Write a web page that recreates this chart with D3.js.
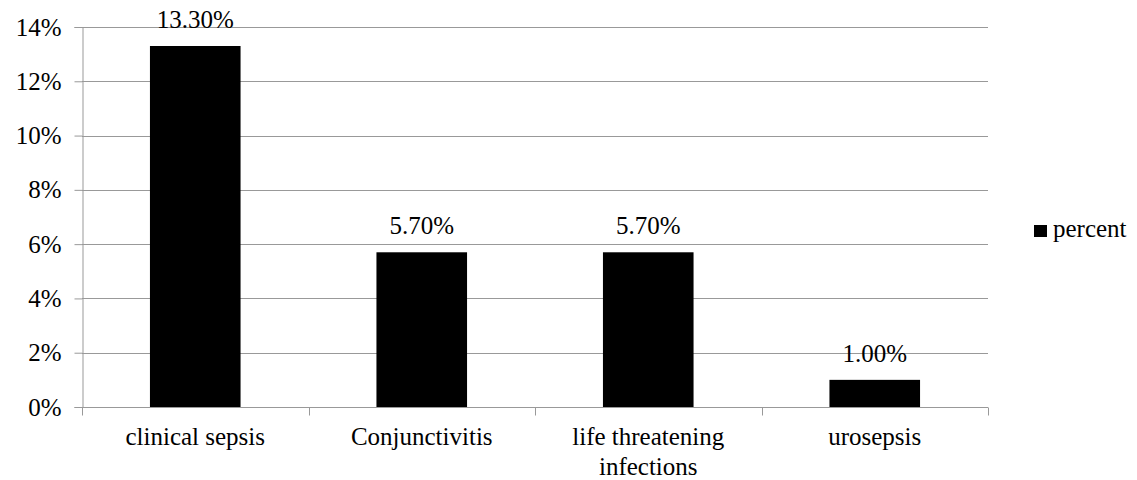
<!DOCTYPE html>
<html>
<head>
<meta charset="utf-8">
<script src="https://cdn.jsdelivr.net/npm/d3@7"></script>
<style>
  body { margin: 0; background: #fff; }
  svg text { fill: #000; }
</style>
</head>
<body>
<div id="chart"></div>
<script>
// chart data
const categories = ["clinical sepsis", "Conjunctivitis", "life threatening infections", "urosepsis"];
const values = [13.3, 5.7, 5.7, 1.0];
const valueLabels = ["13.30%", "5.70%", "5.70%", "1.00%"];
const yTicks = [0, 2, 4, 6, 8, 10, 12, 14];
const seriesName = "percent";

const FONT = "'Times New Roman', Times, Tinos, 'Liberation Serif', 'Noto Serif', 'DejaVu Serif', FreeSerif, serif";
const W = 1137, H = 480;
const plot = { left: 82, right: 988, top: 27, bottom: 407 };

const svg = d3.select("#chart").append("svg")
  .attr("width", W)
  .attr("height", H)
  .style("font-family", FONT);

const x = d3.scaleBand()
  .domain(categories)
  .range([plot.left, plot.right])
  .padding(0);

const y = d3.scaleLinear()
  .domain([0, 14])
  .range([plot.bottom, plot.top]);

const barW = x.bandwidth() * 0.4;

// gridlines
svg.append("g")
  .selectAll("line")
  .data(yTicks.filter(d => d > 0))
  .join("line")
  .attr("x1", plot.left)
  .attr("x2", plot.right)
  .attr("y1", d => Math.round(y(d)) + 0.5)
  .attr("y2", d => Math.round(y(d)) + 0.5)
  .attr("stroke", "#999")
  .attr("stroke-width", 1);

// y axis
const yAxis = svg.append("g")
  .attr("transform", `translate(${plot.left + 0.5},0)`)
  .call(d3.axisLeft(y).tickValues(yTicks).tickFormat(d => d + "%").tickSize(8).tickPadding(13));
yAxis.attr("font-family", null);
yAxis.select(".domain").attr("stroke", "#999");
yAxis.selectAll(".tick line").attr("stroke", "#999");
yAxis.selectAll(".tick text")
  .style("font-family", FONT)
  .attr("font-size", 25)
  .attr("dy", "0.32em");

// bars
svg.append("g")
  .selectAll("rect")
  .data(values)
  .join("rect")
  .attr("x", (d, i) => x(categories[i]) + (x.bandwidth() - barW) / 2)
  .attr("y", d => y(d))
  .attr("width", barW)
  .attr("height", d => plot.bottom - y(d))
  .attr("fill", "#000");

// value labels
svg.append("g")
  .selectAll("text")
  .data(values)
  .join("text")
  .attr("x", (d, i) => x(categories[i]) + x.bandwidth() / 2)
  .attr("y", d => y(d) - 18)
  .attr("text-anchor", "middle")
  .style("font-family", FONT)
  .attr("font-size", 25)
  .text((d, i) => valueLabels[i]);

// x axis
const xAxis = svg.append("g")
  .attr("transform", `translate(0,${plot.bottom + 0.5})`);
xAxis.append("line")
  .attr("x1", plot.left)
  .attr("x2", plot.right)
  .attr("stroke", "#999");
const boundaries = categories.map(c => x(c)).concat([plot.right]);
xAxis.selectAll("line.tk")
  .data(boundaries)
  .join("line")
  .attr("class", "tk")
  .attr("x1", d => Math.round(d) + 0.5)
  .attr("x2", d => Math.round(d) + 0.5)
  .attr("y1", 0)
  .attr("y2", 8)
  .attr("stroke", "#999");

// category labels (wrap the long one onto two lines)
const wrapped = {
  "life threatening infections": ["life threatening", "infections"]
};
categories.forEach(c => {
  const lines = wrapped[c] || [c];
  const t = svg.append("text")
    .attr("x", x(c) + x.bandwidth() / 2)
    .attr("y", 445)
    .attr("text-anchor", "middle")
    .style("font-family", FONT)
    .attr("font-size", 25);
  lines.forEach((ln, j) => {
    t.append("tspan")
      .attr("x", x(c) + x.bandwidth() / 2)
      .attr("dy", j === 0 ? 0 : 30)
      .text(ln);
  });
});

// legend
const legend = svg.append("g").attr("transform", "translate(1034,225)");
legend.append("rect")
  .attr("width", 13)
  .attr("height", 12)
  .attr("fill", "#000");
legend.append("text")
  .attr("x", 19)
  .attr("y", 12)
  .style("font-family", FONT)
  .attr("font-size", 25)
  .text(seriesName);
</script>
</body>
</html>
